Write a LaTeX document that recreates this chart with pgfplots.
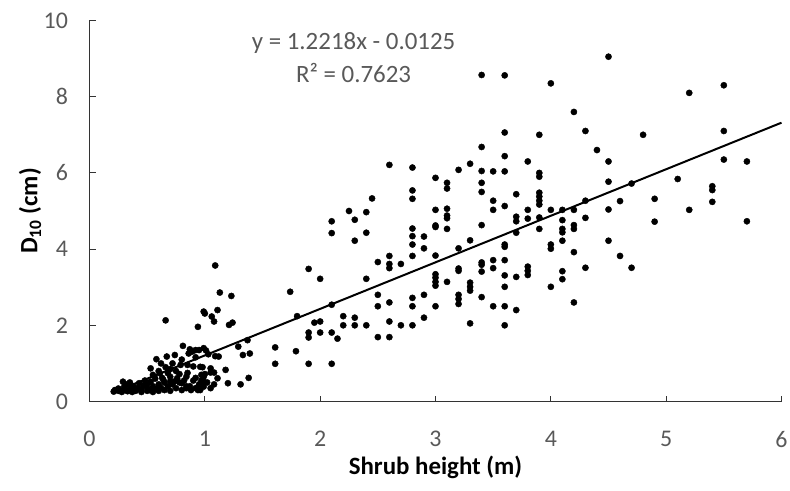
\documentclass[border=0pt]{standalone}
\usepackage{fontspec}
\setmainfont{Carlito}
\usepackage{pgfplots}
\pgfplotsset{compat=1.18}
\definecolor{txtgray}{HTML}{595959}
\pgfplotstableread{
x y
4.5 9.05
4.0 8.35
5.5 8.3
5.2 8.1
4.2 7.6
3.9 7.0
4.3 7.1
4.8 7.0
5.5 7.1
4.4 6.6
3.8 6.3
4.5 6.3
5.5 6.35
5.7 6.3
3.9 6.0
3.9 5.9
4.5 5.77
4.7 5.72
5.1 5.84
5.4 5.65
5.4 5.55
5.4 5.24
3.8 5.03
3.8 4.8
3.9 5.48
3.9 5.38
3.9 5.27
3.9 5.17
3.9 4.83
3.9 4.53
4.0 5.03
4.1 5.03
4.2 5.03
4.3 5.27
4.3 4.82
4.1 4.76
4.1 4.53
4.1 4.44
4.1 4.22
4.2 4.63
4.2 4.53
4.2 3.92
4.0 4.12
4.0 4.01
4.5 5.04
4.6 5.26
4.5 4.22
4.6 3.82
4.7 3.51
4.3 3.51
3.8 3.54
3.8 3.43
3.8 3.32
4.1 3.42
4.1 3.21
4.0 3.01
4.2 2.60
4.9 5.32
4.9 4.72
5.2 5.03
5.7 4.73
3.4 8.57
3.6 8.56
3.6 7.06
3.4 6.68
3.6 6.44
2.6 6.21
2.8 6.14
3.3 6.24
3.2 6.08
3.4 6.05
3.5 6.04
3.6 6.04
3.0 5.87
3.1 5.74
3.1 5.59
3.4 5.74
3.4 5.50
3.7 5.44
2.45 5.33
2.8 5.54
2.8 5.32
3.5 5.27
2.25 5.00
2.4 4.97
2.3 4.77
2.1 4.73
2.1 4.42
2.4 4.43
2.3 4.22
3.0 5.03
3.1 5.06
3.1 4.88
3.1 4.81
3.5 5.03
3.6 5.13
3.7 4.85
3.7 4.73
3.7 4.43
3.0 4.62
3.0 4.58
3.1 4.53
3.4 4.63
2.8 4.54
2.8 4.34
2.8 4.12
2.9 4.33
2.9 4.02
2.8 3.82
3.0 3.83
2.6 3.82
2.5 3.66
2.6 3.61
2.6 3.50
2.7 3.61
3.2 4.02
3.3 4.23
3.6 4.12
3.6 4.06
3.6 3.71
3.5 3.71
3.5 3.50
3.4 3.65
3.4 3.59
3.4 3.41
3.7 3.27
3.6 3.31
3.6 3.01
3.2 3.49
3.2 3.43
3.2 2.80
3.2 2.69
3.2 2.56
3.1 3.14
3.0 3.34
3.0 3.25
3.0 3.14
3.0 3.04
3.3 3.12
3.3 3.01
3.3 2.91
3.4 2.74
3.0 2.50
2.9 2.80
2.8 2.72
2.8 2.50
2.6 2.60
2.5 2.80
2.5 2.50
2.4 3.22
3.5 2.50
3.6 2.50
3.7 2.40
3.3 2.05
3.6 2.00
2.9 2.20
2.8 2.00
2.7 2.00
2.6 2.10
2.4 2.00
2.3 2.20
2.3 2.00
2.2 2.24
2.2 2.00
2.1 2.54
2.5 1.69
2.6 1.69
1.9 3.48
2.0 3.22
1.95 2.07
2.0 2.10
1.9 1.81
1.9 1.68
2.0 1.81
2.1 1.81
2.15 1.65
1.9 0.99
2.1 0.99
1.09 3.57
1.13 2.86
1.23 2.77
0.99 2.36
1.0 2.31
1.11 2.40
1.06 2.23
1.08 2.10
0.94 1.96
0.66 2.13
1.21 2.01
1.24 2.07
1.74 2.88
1.80 2.24
1.61 1.42
1.61 0.99
1.79 1.32
1.37 1.61
1.29 1.44
1.33 1.22
1.39 1.26
1.38 0.62
1.31 0.45
1.20 0.48
1.18 0.83
1.08 0.45
1.11 0.61
1.08 0.76
0.99 0.39
0.99 0.65
1.0 0.72
0.94 0.30
0.96 0.91
1.05 0.87
1.09 1.19
1.12 1.18
0.92 1.35
0.95 1.35
0.99 1.40
1.01 1.34
1.03 1.24
0.87 1.37
0.81 1.46
0.89 1.31
0.86 1.26
0.74 1.22
0.67 1.18
0.58 1.11
0.92 1.16
0.85 0.96
0.79 0.96
0.90 0.92
0.98 0.90
0.97 0.70
1.05 0.76
0.84 0.65
0.76 0.61
0.74 0.53
0.84 0.40
0.87 0.40
0.53 0.87
0.55 0.70
0.61 0.74
0.64 0.57
0.68 0.74
0.70 0.53
0.68 0.78
0.29 0.52
0.80 0.48
0.84 0.35
0.92 0.35
0.96 0.30
0.99 0.52
0.21 0.26
0.22 0.30
0.25 0.28
0.25 0.34
0.28 0.25
0.30 0.30
0.30 0.38
0.32 0.45
0.33 0.27
0.35 0.33
0.35 0.50
0.37 0.25
0.38 0.40
0.40 0.30
0.40 0.28
0.42 0.36
0.43 0.48
0.45 0.25
0.45 0.33
0.47 0.42
0.48 0.55
0.50 0.28
0.50 0.36
0.50 0.45
0.52 0.30
0.53 0.52
0.55 0.25
0.55 0.40
0.57 0.60
0.58 0.33
0.60 0.28
0.60 0.45
0.60 0.80
0.62 0.36
0.63 0.62
0.65 0.30
0.65 0.50
0.66 0.90
0.68 0.40
0.70 0.28
0.70 0.65
0.72 0.45
0.72 1.00
0.75 0.35
0.75 0.80
0.78 0.50
0.80 0.30
0.80 1.10
0.82 0.55
0.85 0.75
0.88 0.30
0.90 0.55
0.92 0.62
0.95 0.45
0.97 0.55
1.02 0.50
1.05 0.35
0.78 0.72
0.62 1.00
0.70 0.85
}\scatterdata
\begin{document}
\begin{tikzpicture}
\begin{axis}[
  at={(0,0)}, anchor=south west,
  scale only axis, width=692bp, height=381bp,
  xmin=0, xmax=6, ymin=0, ymax=10,
  xtick={0,1,2,3,4,5,6}, ytick={0,2,4,6,8,10},
  axis x line*=bottom, axis y line*=left,
  axis line style={black!80, line width=0.9pt},
  tick align=inside, major tick length=6bp,
  tick style={black!80, line width=0.9pt},
  /pgf/number format/assume math mode=true,
  ticklabel style={font=\fontsize{24}{28}\selectfont, text=txtgray},
  xticklabel shift=26bp,
  yticklabel shift=18bp,
  xlabel={\textbf{Shrub height (m)}},
  ylabel={\textbf{D\textsubscript{10} (cm)}},
  label style={font=\fontsize{25}{28}\selectfont, text=black},
  xlabel style={at={(axis description cs:0.5,-0.172)}, anchor=center},
  ylabel style={at={(axis description cs:-0.086,0.5)}, anchor=center},
  clip=false,
]
\addplot[only marks, mark=*, mark size=3.1bp, black] table[x=x, y=y] {\scatterdata};
\addplot[black, line width=2bp] coordinates {(0.2,0.232) (6,7.318)};
\node[font=\fontsize{25}{28}\selectfont, text=txtgray] at (axis cs:2.29,9.41) {y = 1.2218x - 0.0125};
\node[font=\fontsize{25}{28}\selectfont, text=txtgray] at (axis cs:2.29,8.62) {R² = 0.7623};
\end{axis}
\pgfresetboundingbox
\path[use as bounding box] (-89.5bp,-89.5bp) rectangle (700.5bp,401.5bp);
\end{tikzpicture}
\end{document}
